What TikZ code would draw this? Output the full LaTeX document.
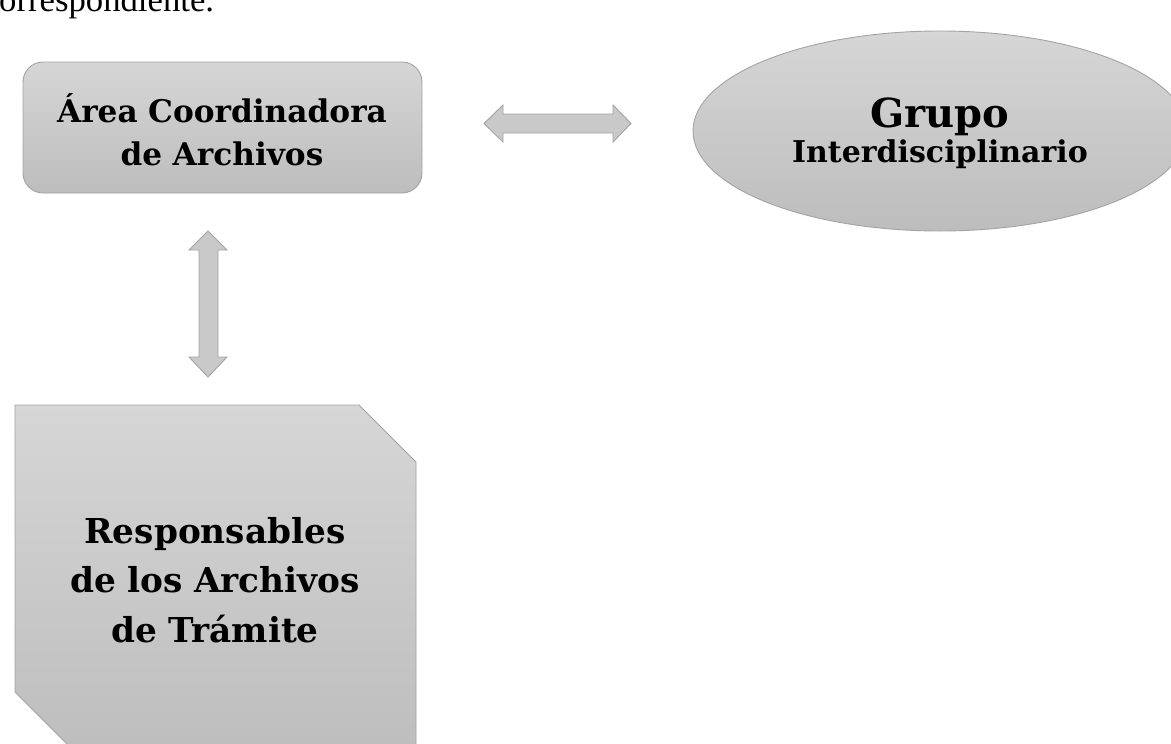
\documentclass[tikz,border=0pt]{standalone}
\usepackage{fontspec}
\setmainfont{DejaVu Serif}
\newfontfamily\tnr{Liberation Serif}
\usetikzlibrary{shapes.geometric}
\definecolor{shtop}{HTML}{D6D6D6}
\definecolor{shbot}{HTML}{BDBDBD}
\definecolor{edgegray}{HTML}{A3A3A3}
\definecolor{arrfill}{HTML}{C9C9C9}
\begin{document}
\begin{tikzpicture}[x=1pt,y=-1pt,
  boxshape/.style={draw=edgegray,line width=0.9pt,top color=shtop,bottom color=shbot},
  blockarrow/.style={draw=edgegray,line width=0.9pt,fill=arrfill,line join=miter},
  lbl/.style={anchor=base,align=center,text width=420pt,inner sep=0pt,font=\bfseries}]
\useasboundingbox (0,0) rectangle (1171,744);
\clip (0,0) rectangle (1171,744);
% top clipped text
\node[anchor=base west,inner sep=0pt,font=\tnr\fontsize{34.7}{40}\selectfont] (toptext) at (-1,11) {orrespondiente.};
% Area Coordinadora
\draw[boxshape,rounded corners=20pt] (23,62) rectangle (422,193);
\node[lbl,font=\bfseries\fontsize{31.2}{43}\selectfont] (area) at (222,122) {Área Coordinadora\\de Archivos};
% Grupo Interdisciplinario
\node[ellipse,boxshape,minimum width=494pt,minimum height=200pt,inner sep=0pt] (gruposhape) at (940,131) {};
\node[lbl,font=\bfseries\fontsize{30}{35}\selectfont] (grupo) at (940,127) {{\fontsize{40}{35}\selectfont Grupo}\\Interdisciplinario};
% Responsables
\draw[boxshape] (15,405) -- (359,405) -- (416,462) -- (416,760) -- (83,760) -- (15,692) -- cycle;
\node[lbl,font=\bfseries\fontsize{34.3}{49.5}\selectfont] (resp) at (215,543) {Responsables\\de los Archivos\\de Trámite};
% horizontal double block arrow
\draw[blockarrow] (484,123.5) -- (503,105) -- (503,114) -- (613,114) -- (613,105) -- (631,123.5)
  -- (613,142) -- (613,133) -- (503,133) -- (503,142) -- cycle;
% vertical double block arrow
\draw[blockarrow] (208,231) -- (227,250) -- (218,250) -- (218,357) -- (227,357) -- (208,377)
  -- (189,357) -- (199,357) -- (199,250) -- (189,250) -- cycle;
\end{tikzpicture}
\end{document}
